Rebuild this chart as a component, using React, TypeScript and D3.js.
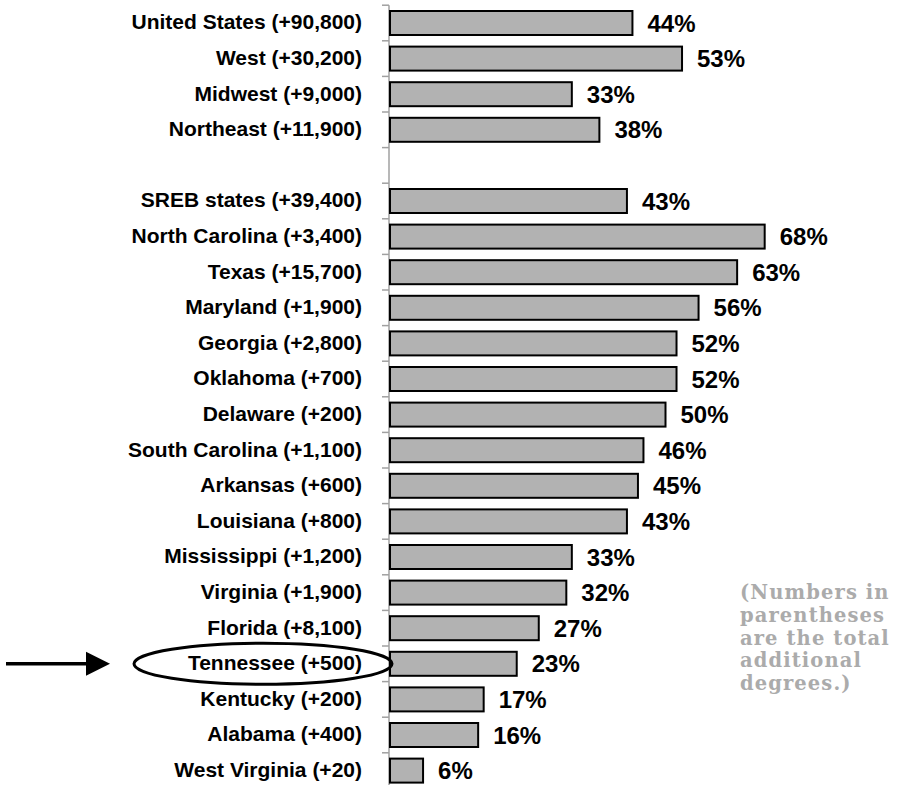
import React from "react";
import * as d3 from "d3";

const categories = [
  "United States (+90,800)",
  "West (+30,200)",
  "Midwest (+9,000)",
  "Northeast (+11,900)",
  "",
  "SREB states (+39,400)",
  "North Carolina (+3,400)",
  "Texas (+15,700)",
  "Maryland (+1,900)",
  "Georgia (+2,800)",
  "Oklahoma (+700)",
  "Delaware (+200)",
  "South Carolina (+1,100)",
  "Arkansas (+600)",
  "Louisiana (+800)",
  "Mississippi (+1,200)",
  "Virginia (+1,900)",
  "Florida (+8,100)",
  "Tennessee (+500)",
  "Kentucky (+200)",
  "Alabama (+400)",
  "West Virginia (+20)",
];

const values: (number | null)[] = [
  44, 53, 33, 38, null, 43, 68, 63, 56, 52, 52, 50, 46, 45, 43, 33, 32, 27, 23, 17, 16, 6,
];

const noteLines = [
  "(Numbers in",
  "parentheses",
  "are the total",
  "additional",
  "degrees.)",
];

const highlighted = "Tennessee (+500)";

const W = 902;
const H = 785;

export default function App() {
  const slots = categories.map((c, i) => (c === "" ? `__gap${i}` : c));
  const y = d3.scaleBand<string>().domain(slots).range([5.2, 5.2 + 35.6 * slots.length]).padding(0);
  const x = d3.scaleLinear().domain([0, 100]).range([390, 941]);
  const step = y.step();
  const barH = 24;
  const axisX = 389;
  const tickYs = d3.range(slots.length + 1).map((i) => (y(slots[0]) as number) + i * step);

  const hlIndex = categories.indexOf(highlighted);
  const hlCy = (y(slots[hlIndex]) as number) + step / 2;

  return (
    <svg width={W} height={H} style={{ position: "absolute", left: 0, top: 0, background: "#fff" }}>
      {/* axis */}
      <line x1={axisX} x2={axisX} y1={tickYs[0]} y2={H + 10} stroke="#a0a0a0" strokeWidth={1.5} />
      {tickYs.map((t, i) => (
        <line key={"t" + i} x1={382} x2={axisX} y1={t} y2={t} stroke="#a0a0a0" strokeWidth={1.5} />
      ))}
      {/* bars */}
      {categories.map((c, i) => {
        const v = values[i];
        if (v == null) return null;
        const cy = (y(slots[i]) as number) + step / 2;
        return (
          <g key={c}>
            <rect
              x={x(0)}
              y={cy - barH / 2}
              width={x(v) - x(0)}
              height={barH}
              fill="#b2b2b2"
              stroke="#000"
              strokeWidth={2}
            />
            <text
              x={x(v) + 15}
              y={cy}
              dy="0.36em"
              fontFamily="'Liberation Sans', Arial, sans-serif"
              fontWeight="bold"
              fontSize={24}
              fill="#000"
            >
              {v}%
            </text>
            <text
              x={362}
              y={cy}
              dy="0.3em"
              textAnchor="end"
              fontFamily="'Liberation Sans', Arial, sans-serif"
              fontWeight="bold"
              fontSize={21}
              fill="#000"
            >
              {c}
            </text>
          </g>
        );
      })}
      {/* highlight ellipse */}
      <ellipse cx={263} cy={hlCy} rx={129} ry={20.5} fill="none" stroke="#000" strokeWidth={3} />
      {/* arrow */}
      <line x1={6} x2={88} y1={hlCy} y2={hlCy} stroke="#000" strokeWidth={3.5} />
      <path d={`M86,${hlCy - 12} L110,${hlCy} L86,${hlCy + 12} Z`} fill="#000" />
      {/* note */}
      <text
        fontFamily="'DejaVu Serif', serif"
        fontWeight="bold"
        fontSize={19.5}
        letterSpacing={1.1}
        fill="#ababab"
      >
        {noteLines.map((l, i) => (
          <tspan key={i} x={740} y={599 + i * 22.75}>
            {l}
          </tspan>
        ))}
      </text>
    </svg>
  );
}
